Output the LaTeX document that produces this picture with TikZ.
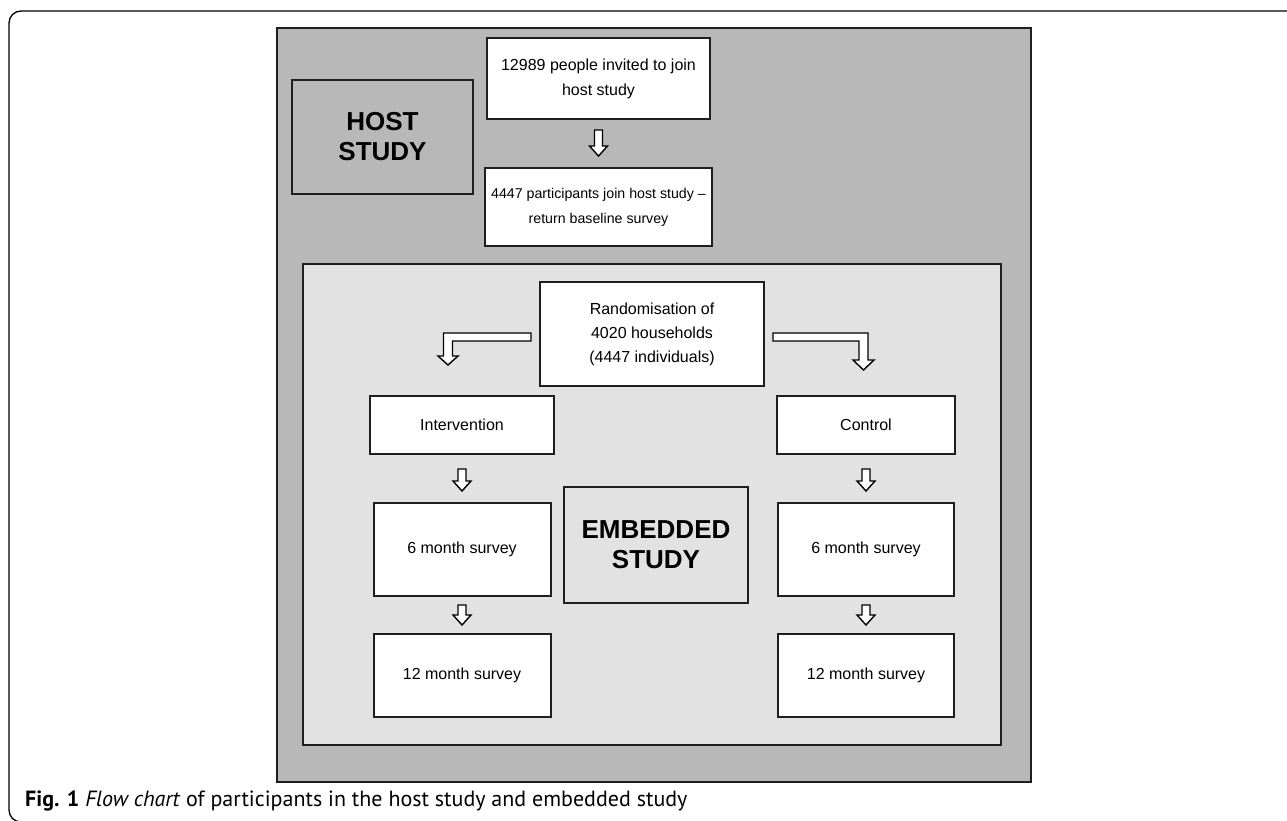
\documentclass[tikz,border=0pt]{standalone}
\usepackage{fontspec}
\setmainfont{Liberation Sans}
\newfontfamily\capfont{PT Sans}
\usetikzlibrary{calc}
\definecolor{dgrey}{HTML}{B8B8B8}
\definecolor{lgrey}{HTML}{E2E2E2}
\definecolor{edge}{HTML}{1E1E1E}
\tikzset{
  box/.style={draw=edge, line width=2pt, fill=white, align=center,
    font=\fontsize{16}{25}\selectfont, inner sep=0pt},
  smallbox/.style={box, font=\fontsize{14.2}{25}\selectfont},
  titlebox/.style={draw=edge, line width=2pt, align=center,
    font=\fontsize{26}{30}\selectfont\bfseries, inner sep=0pt},
  blk/.style={draw=black, fill=white, line width=1.4pt, line join=miter},
  blockdown/.style={blk, to path={let \p1=(\tikztostart), \p2=(\tikztotarget) in
    (\x1-4pt,\y1) -- (\x1+4pt,\y1) -- (\x1+4pt,\y2+10pt) -- (\x1+9pt,\y2+10pt)
    -- (\x1,\y2) -- (\x1-9pt,\y2+10pt) -- (\x1-4pt,\y2+10pt) -- cycle}}
}
\begin{document}
\begin{tikzpicture}[x=1pt,y=-1pt]
\useasboundingbox (0,0) rectangle (1287,820);
% outer frame
\draw[line width=1.3pt, rounded corners=12pt] (1300,11) -- (9,11) -- (9,822) -- (1300,822);
% grey panels
\node[draw=edge, line width=2pt, fill=dgrey, minimum width=754pt, minimum height=754pt, inner sep=0pt] (host panel) at (654,405) {};
\node[draw=edge, line width=2pt, fill=lgrey, minimum width=698pt, minimum height=481pt, inner sep=0pt] (emb panel) at (652,504.5) {};
% host study
\node[titlebox, fill=dgrey, minimum width=181pt, minimum height=114pt] (host) at (382.5,136.5) {HOST\\STUDY};
\node[box, minimum width=223pt, minimum height=81pt] (b1) at (598.5,78.5) {12989 people invited to join\\host study};
\node[smallbox, minimum width=227pt, minimum height=78pt] (b2) at (598.5,207) {4447 participants join host study --\\return baseline survey};
% embedded
\node[box, minimum width=224pt, minimum height=104pt, font=\fontsize{16}{24}\selectfont] (rand) at (652,334) {Randomisation of\\4020 households\\(4447 individuals)};
\node[box, minimum width=184pt, minimum height=58pt] (interv) at (462,425) {Intervention};
\node[box, minimum width=178pt, minimum height=58pt] (control) at (866,425) {Control};
\node[box, minimum width=177pt, minimum height=93pt] (s6L) at (462,549.5) {6 month survey};
\node[box, minimum width=177pt, minimum height=83pt] (s12L) at (462,675.5) {12 month survey};
\node[box, minimum width=176pt, minimum height=93pt] (s6R) at (866,549.5) {6 month survey};
\node[box, minimum width=176pt, minimum height=83pt] (s12R) at (866,675.5) {12 month survey};
\node[titlebox, fill=lgrey, minimum width=184pt, minimum height=116pt] (emb) at (656,545) {EMBEDDED\\STUDY};
% straight block arrows
\draw[blockdown] ([yshift=-10pt]b1.south) to ([yshift=11pt]b2.north);
\draw[blockdown] ([yshift=-14pt]interv.south) to ([yshift=11pt]s6L.north);
\draw[blockdown] ([yshift=-14pt]control.south) to ([yshift=11pt]s6R.north);
\draw[blockdown] ([yshift=-8pt]s6L.south) to ([yshift=8pt]s12L.north);
\draw[blockdown] ([yshift=-8pt]s6R.south) to ([yshift=8pt]s12R.north);
% bent block arrows
\coordinate (ltip) at (448,365);
\coordinate (rtip) at (863.5,370);
\draw[blk] let \p1=($(rand.west)+(-8,3)$), \p2=(ltip) in
  (\x1,\y1+4pt) -- (\x2-4.5pt,\y1+4pt) -- (\x2-4.5pt,\y2+9pt) -- (\x2-10pt,\y2+9pt)
  -- (\x2,\y2) -- (\x2+10pt,\y2+9pt) -- (\x2+4.5pt,\y2+9pt) -- (\x2+4.5pt,\y1-4pt)
  -- (\x1,\y1-4pt) -- cycle;
\draw[blk] let \p1=($(rand.east)+(8,3)$), \p2=(rtip) in
  (\x1,\y1+4pt) -- (\x2+4.5pt,\y1+4pt) -- (\x2+4.5pt,\y2+10pt) -- (\x2+10.5pt,\y2+10pt)
  -- (\x2,\y2) -- (\x2-10.5pt,\y2+10pt) -- (\x2-4.5pt,\y2+10pt) -- (\x2-4.5pt,\y1-4pt)
  -- (\x1,\y1-4pt) -- cycle;
% caption
\node[anchor=base west, inner sep=0pt, font=\capfont\fontsize{22}{26}\selectfont] (cap) at (25,806)
  {\textbf{Fig. 1} \textit{Flow chart} of participants in the host study and embedded study};
\end{tikzpicture}
\end{document}
